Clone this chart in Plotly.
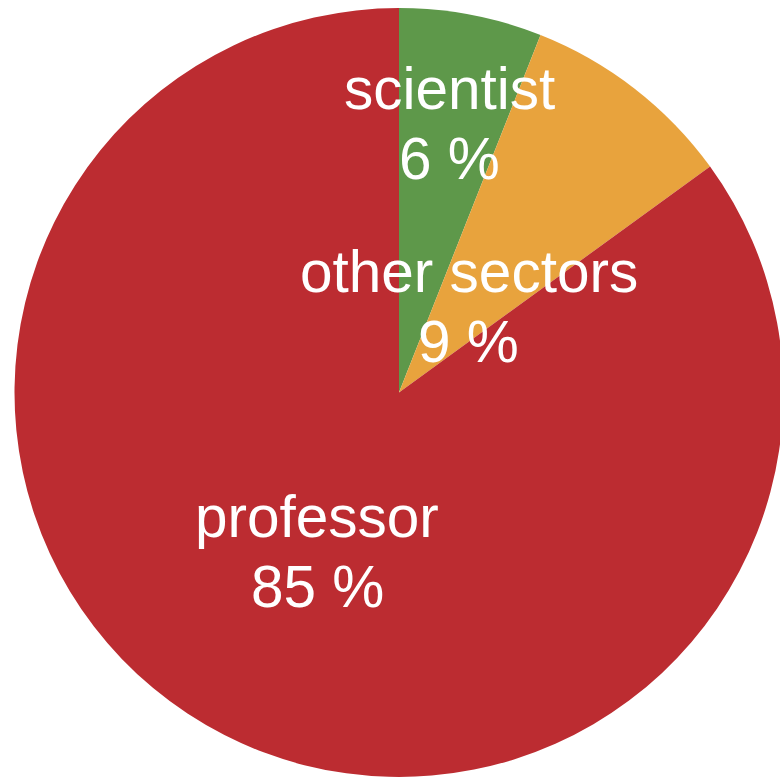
import math
import plotly.graph_objects as go

# Data
categories = ["scientist", "other sectors", "professor"]
values = [6, 9, 85]
colors = ["#5e984a", "#e8a33d", "#bc2c31"]

# figure slightly wider than the window so the pie's right edge is cut off
W, H = 786, 778
# pie placement (pixels)
CX, CY, R = 399, 392.5, 384.5

# label layout: radial fraction along slice mid-angle, plus pixel nudges
label_layout = [
    (0.66, 3, 2),
    (0.25, 11, -8),
    (0.515, 8, 0),
]
FS = 58.5
LINE_GAP = 70  # distance between baselines

fig = go.Figure()
fig.add_trace(go.Pie(
    labels=categories,
    values=values,
    marker=dict(colors=colors, line=dict(width=0)),
    sort=False,
    direction="clockwise",
    rotation=0,
    textinfo="none",
    hoverinfo="label+percent",
    showlegend=False,
    domain=dict(x=[(CX - R) / W, min(1.0, (CX + R) / W)],
                y=[max(0.0, 1 - (CY + R) / H), min(1.0, 1 - (CY - R) / H)]),
))

total = sum(values)
cum = 0
annotations = []
for cat, v, (f, nx, ny) in zip(categories, values, label_layout):
    mid = (cum + v / 2) / total * 2 * math.pi
    cum += v
    px = CX + math.sin(mid) * f * R + nx
    py = CY - math.cos(mid) * f * R - ny
    pct = f"{round(v / total * 100)} %"
    for txt, base in ((cat, py - LINE_GAP / 2), (pct, py + LINE_GAP / 2)):
        ycenter = base - 0.30 * FS
        annotations.append(dict(
            x=px / W, y=1 - ycenter / H, xref="paper", yref="paper",
            text=txt, showarrow=False, xanchor="center", yanchor="middle",
            font=dict(family="Liberation Sans, Arial, Helvetica, sans-serif",
                      size=FS, color="white"),
        ))

fig.update_layout(
    width=W, height=H,
    margin=dict(l=0, r=0, t=0, b=0),
    paper_bgcolor="white",
    annotations=annotations,
)

fig.write_html(
    "out.html",
    config={"displayModeBar": False},
    post_script="document.body.style.margin='0';"
                "document.body.style.overflow='hidden';"
                "document.documentElement.style.overflow='hidden';",
)
